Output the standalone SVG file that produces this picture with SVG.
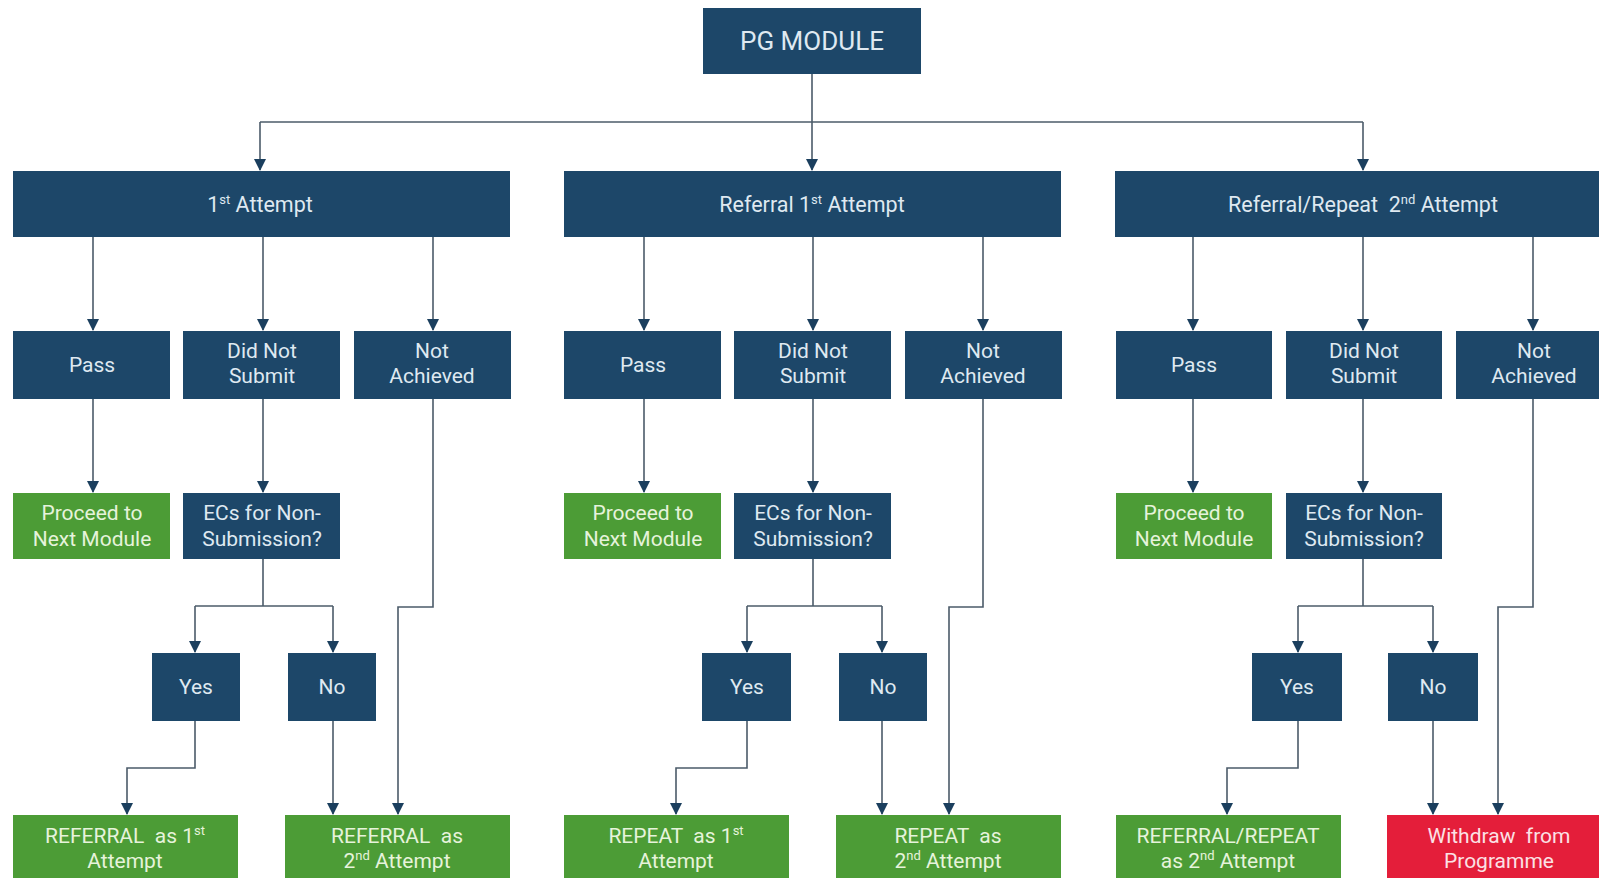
<svg xmlns="http://www.w3.org/2000/svg" width="1599" height="878" viewBox="0 0 1599 878">
<style>
.b{fill:#1d4769}
.g{fill:#4c9c36}
.r{fill:#e41e3a}
text{font-family:Roboto,"Liberation Sans",sans-serif;font-size:21px;text-anchor:middle}
.h{font-size:21.5px}
.tb{fill:#dfe9f1}
.tg{fill:#e6f3db}
.tr{fill:#fbe1e5}
.c{fill:none;stroke:#4b5b69;stroke-width:1.6}
</style>
<defs>
<marker id="d" viewBox="0 0 12 12" refX="6" refY="11" markerWidth="12" markerHeight="12" markerUnits="userSpaceOnUse" orient="0">
<path d="M0,0 L12,0 L6,12 Z" fill="#1b3f5e"/>
</marker>
</defs>
<rect width="1599" height="878" fill="#ffffff"/>

<g id="connectors" class="c">
<path d="M812,74 V170" marker-end="url(#d)"/>
<path d="M260,122 H1363"/>
<path d="M260,122 V170" marker-end="url(#d)"/>
<path d="M1363,122 V170" marker-end="url(#d)"/>
<path d="M93,237 V330" marker-end="url(#d)"/>
<path d="M263,237 V330" marker-end="url(#d)"/>
<path d="M433,237 V330" marker-end="url(#d)"/>
<path d="M93,399 V492" marker-end="url(#d)"/>
<path d="M263,399 V492" marker-end="url(#d)"/>
<path d="M263,559 V606"/>
<path d="M195,606 H333"/>
<path d="M195,606 V652" marker-end="url(#d)"/>
<path d="M333,606 V652" marker-end="url(#d)"/>
<path d="M195,721 V768 H127 V814" marker-end="url(#d)"/>
<path d="M333,721 V814" marker-end="url(#d)"/>
<path d="M433,399 V607 H398 V814" marker-end="url(#d)"/>
<path d="M644,237 V330" marker-end="url(#d)"/>
<path d="M813,237 V330" marker-end="url(#d)"/>
<path d="M983,237 V330" marker-end="url(#d)"/>
<path d="M644,399 V492" marker-end="url(#d)"/>
<path d="M813,399 V492" marker-end="url(#d)"/>
<path d="M813,559 V606"/>
<path d="M747,606 H882"/>
<path d="M747,606 V652" marker-end="url(#d)"/>
<path d="M882,606 V652" marker-end="url(#d)"/>
<path d="M747,721 V768 H676 V814" marker-end="url(#d)"/>
<path d="M882,721 V814" marker-end="url(#d)"/>
<path d="M983,399 V607 H949 V814" marker-end="url(#d)"/>
<path d="M1193,237 V330" marker-end="url(#d)"/>
<path d="M1363,237 V330" marker-end="url(#d)"/>
<path d="M1533,237 V330" marker-end="url(#d)"/>
<path d="M1193,399 V492" marker-end="url(#d)"/>
<path d="M1363,399 V492" marker-end="url(#d)"/>
<path d="M1363,559 V606"/>
<path d="M1298,606 H1433"/>
<path d="M1298,606 V652" marker-end="url(#d)"/>
<path d="M1433,606 V652" marker-end="url(#d)"/>
<path d="M1298,721 V768 H1227 V814" marker-end="url(#d)"/>
<path d="M1433,721 V814" marker-end="url(#d)"/>
<path d="M1533,399 V607 H1498 V814" marker-end="url(#d)"/>
</g>

<g id="pg-module"><rect class="b" x="703" y="8" width="218" height="66"/><text class="tb" x="812" y="50" style="font-size:26px">PG MODULE</text></g>

<g id="first-attempt"><rect class="b" x="13" y="171" width="497" height="66"/><text class="tb h" x="260" y="212">1<tspan font-size="13" dy="-8">st</tspan><tspan dy="8"> Attempt</tspan></text></g>
<g id="g1-pass"><rect class="b" x="13" y="331" width="157" height="68"/><text class="tb" x="92" y="372">Pass</text></g>
<g id="g1-dns"><rect class="b" x="183" y="331" width="157" height="68"/><text class="tb" x="262" y="358">Did Not</text><text class="tb" x="262" y="383">Submit</text></g>
<g id="g1-na"><rect class="b" x="354" y="331" width="157" height="68"/><text class="tb" x="432" y="358">Not</text><text class="tb" x="432" y="383">Achieved</text></g>
<g id="g1-proceed"><rect class="g" x="13" y="493" width="157" height="66"/><text class="tg" x="92" y="520">Proceed to</text><text class="tg" x="92" y="546">Next Module</text></g>
<g id="g1-ecs"><rect class="b" x="183" y="493" width="157" height="66"/><text class="tb" x="262" y="520">ECs for Non-</text><text class="tb" x="262" y="546">Submission?</text></g>
<g id="g1-yes"><rect class="b" x="152" y="653" width="88" height="68"/><text class="tb" x="196" y="694">Yes</text></g>
<g id="g1-no"><rect class="b" x="288" y="653" width="88" height="68"/><text class="tb" x="332" y="694">No</text></g>
<g id="g1-ref1"><rect class="g" x="13" y="815" width="225" height="67"/><text class="tg" x="125" y="843" xml:space="preserve">REFERRAL  as 1<tspan font-size="13" dy="-8">st</tspan></text><text class="tg" x="125" y="868">Attempt</text></g>
<g id="g1-ref2"><rect class="g" x="285" y="815" width="225" height="67"/><text class="tg" x="397" y="843" xml:space="preserve">REFERRAL  as</text><text class="tg" x="397" y="868">2<tspan font-size="13" dy="-8">nd</tspan><tspan dy="8"> Attempt</tspan></text></g>

<g id="referral-first"><rect class="b" x="564" y="171" width="497" height="66"/><text class="tb h" x="812" y="212">Referral 1<tspan font-size="13" dy="-8">st</tspan><tspan dy="8"> Attempt</tspan></text></g>
<g id="g2-pass"><rect class="b" x="564" y="331" width="157" height="68"/><text class="tb" x="643" y="372">Pass</text></g>
<g id="g2-dns"><rect class="b" x="734" y="331" width="157" height="68"/><text class="tb" x="813" y="358">Did Not</text><text class="tb" x="813" y="383">Submit</text></g>
<g id="g2-na"><rect class="b" x="905" y="331" width="157" height="68"/><text class="tb" x="983" y="358">Not</text><text class="tb" x="983" y="383">Achieved</text></g>
<g id="g2-proceed"><rect class="g" x="564" y="493" width="157" height="66"/><text class="tg" x="643" y="520">Proceed to</text><text class="tg" x="643" y="546">Next Module</text></g>
<g id="g2-ecs"><rect class="b" x="734" y="493" width="157" height="66"/><text class="tb" x="813" y="520">ECs for Non-</text><text class="tb" x="813" y="546">Submission?</text></g>
<g id="g2-yes"><rect class="b" x="702" y="653" width="89" height="68"/><text class="tb" x="747" y="694">Yes</text></g>
<g id="g2-no"><rect class="b" x="839" y="653" width="88" height="68"/><text class="tb" x="883" y="694">No</text></g>
<g id="g2-rep1"><rect class="g" x="564" y="815" width="225" height="67"/><text class="tg" x="676" y="843" xml:space="preserve">REPEAT  as 1<tspan font-size="13" dy="-8">st</tspan></text><text class="tg" x="676" y="868">Attempt</text></g>
<g id="g2-rep2"><rect class="g" x="836" y="815" width="225" height="67"/><text class="tg" x="948" y="843" xml:space="preserve">REPEAT  as</text><text class="tg" x="948" y="868">2<tspan font-size="13" dy="-8">nd</tspan><tspan dy="8"> Attempt</tspan></text></g>

<g id="referral-repeat-second"><rect class="b" x="1115" y="171" width="497" height="66"/><text class="tb h" x="1363" y="212" xml:space="preserve">Referral/Repeat  2<tspan font-size="13" dy="-8">nd</tspan><tspan dy="8"> Attempt</tspan></text></g>
<g id="g3-pass"><rect class="b" x="1116" y="331" width="156" height="68"/><text class="tb" x="1194" y="372">Pass</text></g>
<g id="g3-dns"><rect class="b" x="1286" y="331" width="156" height="68"/><text class="tb" x="1364" y="358">Did Not</text><text class="tb" x="1364" y="383">Submit</text></g>
<g id="g3-na"><rect class="b" x="1456" y="331" width="157" height="68"/><text class="tb" x="1534" y="358">Not</text><text class="tb" x="1534" y="383">Achieved</text></g>
<g id="g3-proceed"><rect class="g" x="1116" y="493" width="156" height="66"/><text class="tg" x="1194" y="520">Proceed to</text><text class="tg" x="1194" y="546">Next Module</text></g>
<g id="g3-ecs"><rect class="b" x="1286" y="493" width="156" height="66"/><text class="tb" x="1364" y="520">ECs for Non-</text><text class="tb" x="1364" y="546">Submission?</text></g>
<g id="g3-yes"><rect class="b" x="1252" y="653" width="90" height="68"/><text class="tb" x="1297" y="694">Yes</text></g>
<g id="g3-no"><rect class="b" x="1388" y="653" width="90" height="68"/><text class="tb" x="1433" y="694">No</text></g>
<g id="g3-refrep"><rect class="g" x="1116" y="815" width="225" height="67"/><text class="tg" x="1228" y="843">REFERRAL/REPEAT</text><text class="tg" x="1228" y="868">as 2<tspan font-size="13" dy="-8">nd</tspan><tspan dy="8"> Attempt</tspan></text></g>
<g id="g3-withdraw"><rect class="r" x="1387" y="815" width="225" height="67"/><text class="tr" x="1499" y="843" xml:space="preserve">Withdraw  from</text><text class="tr" x="1499" y="868">Programme</text></g>
</svg>
